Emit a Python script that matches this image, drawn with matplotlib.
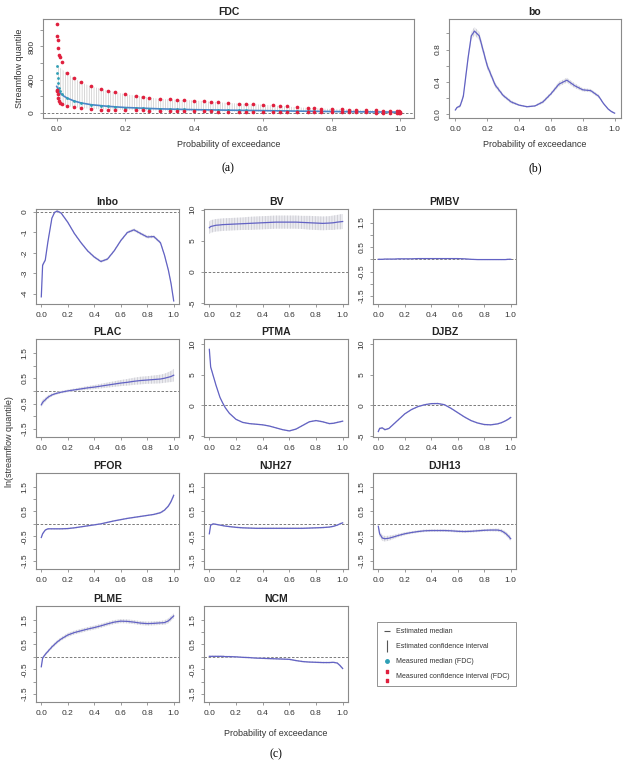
import numpy as np
import matplotlib
matplotlib.use("Agg")
import matplotlib.pyplot as plt
from matplotlib.lines import Line2D

plt.rcParams['font.family'] = ['Liberation Sans', 'DejaVu Sans']
plt.rcParams['hatch.linewidth'] = 0.5

# ---------------- data ----------------
# (a) flow duration curve
fdc_p_meas = [0.001, 0.002, 0.003, 0.005, 0.007, 0.01, 0.015, 0.03, 0.05, 0.07,
              0.10, 0.13, 0.15, 0.17, 0.20, 0.23, 0.25, 0.27, 0.30, 0.33, 0.35,
              0.37, 0.40, 0.43, 0.45, 0.47, 0.50, 0.53, 0.55, 0.57, 0.60, 0.63,
              0.65, 0.67, 0.70, 0.73, 0.75, 0.77, 0.80, 0.83, 0.85, 0.87, 0.90,
              0.93, 0.95, 0.97, 0.99, 0.995, 0.999]
fdc_meas_upper = [1070, 920, 880, 780, 700, 670, 610, 480, 420, 370, 320, 290, 270,
                  250, 225, 200, 190, 185, 170, 165, 160, 155, 150, 140, 135, 130,
                  120, 110, 108, 105, 100, 92, 88, 80, 68, 60, 56, 52, 48, 44, 40,
                  40, 36, 32, 30, 28, 22, 20, 18]
fdc_meas_lower = [280, 265, 225, 185, 150, 125, 110, 88, 70, 60, 50, 42, 40, 38, 36,
                  33, 31, 30, 28, 26, 25, 24, 22, 20, 19, 18, 17, 16, 15, 15, 14, 13,
                  12, 12, 11, 10, 10, 9, 9, 8, 8, 7, 7, 6, 6, 5, 4, 4, 3]
fdc_meas_median = [560, 480, 420, 360, 300, 260, 230, 180, 145, 122, 100, 88, 80, 74,
                   66, 60, 56, 53, 50, 47, 45, 43, 40, 38, 37, 36, 34, 32, 31, 30, 29,
                   27, 26, 25, 23, 21, 20, 19, 18, 17, 16, 15, 14, 13, 12, 11, 10, 10, 9]

fdc_p_est = [0.0, 0.01, 0.02, 0.03, 0.05, 0.07, 0.10, 0.15, 0.20, 0.30, 0.40, 0.50,
             0.60, 0.70, 0.80, 0.90, 1.0]
fdc_est_median = [320, 240, 205, 180, 145, 122, 100, 80, 66, 50, 40, 34, 29, 23, 18, 14, 10]
fdc_est_upper = [600, 540, 510, 480, 420, 370, 320, 270, 225, 170, 150, 120, 100, 68, 48, 36, 22]
fdc_est_lower = [150, 110, 95, 85, 70, 60, 50, 40, 36, 28, 22, 17, 14, 11, 9, 7, 4]

# (b) and (c) parameter curves
prob = [0.0, 0.01, 0.03, 0.05, 0.08, 0.10, 0.12, 0.15, 0.20, 0.25, 0.30, 0.35, 0.40,
        0.45, 0.50, 0.55, 0.60, 0.65, 0.70, 0.75, 0.80, 0.85, 0.90, 0.93, 0.96, 0.98, 1.0]

bo_med = [0.05, 0.08, 0.10, 0.22, 0.70, 0.97, 1.03, 0.97, 0.60, 0.36, 0.23, 0.15, 0.11,
          0.09, 0.10, 0.15, 0.25, 0.37, 0.42, 0.35, 0.30, 0.29, 0.22, 0.13, 0.06, 0.03, 0.01]
bo_ci = [0.01, 0.01, 0.02, 0.03, 0.04, 0.05, 0.05, 0.05, 0.04, 0.03, 0.02, 0.02, 0.01,
         0.01, 0.01, 0.02, 0.02, 0.03, 0.03, 0.03, 0.02, 0.02, 0.02, 0.01, 0.01, 0.01, 0.01]

lnbo_med = [-4.15, -2.6, -2.35, -1.45, -0.3, -0.02, 0.05, -0.05, -0.5, -1.05, -1.5, -1.9,
            -2.2, -2.42, -2.3, -1.9, -1.4, -1.0, -0.87, -1.05, -1.22, -1.2, -1.5, -2.1,
            -2.85, -3.5, -4.35]
lnbo_ci = [0.08, 0.08, 0.07, 0.06, 0.05, 0.05, 0.05, 0.05, 0.05, 0.05, 0.05, 0.05, 0.06,
           0.06, 0.06, 0.06, 0.06, 0.06, 0.07, 0.07, 0.07, 0.07, 0.07, 0.07, 0.08, 0.08, 0.08]

bv_med = [7.1, 7.3, 7.4, 7.5, 7.55, 7.6, 7.62, 7.65, 7.7, 7.75, 7.8, 7.85, 7.9, 7.95,
          8.0, 8.0, 8.0, 8.0, 7.95, 7.9, 7.85, 7.8, 7.85, 7.9, 8.0, 8.05, 8.1]
bv_ci = [1.0, 1.0, 1.0, 1.0, 1.0, 1.0, 1.0, 1.0, 1.0, 1.0, 1.05, 1.05, 1.05, 1.05, 1.05,
         1.05, 1.05, 1.05, 1.05, 1.1, 1.1, 1.1, 1.1, 1.15, 1.15, 1.2, 1.2]

pmbv_med = [0.0, 0.0, 0.0, 0.01, 0.01, 0.01, 0.01, 0.02, 0.02, 0.02, 0.03, 0.03, 0.03,
            0.03, 0.03, 0.03, 0.03, 0.02, 0.0, -0.01, -0.01, -0.01, -0.01, -0.01, -0.01,
            0.0, 0.0]
pmbv_ci = [0.03, 0.03, 0.02, 0.02, 0.02, 0.02, 0.02, 0.02, 0.02, 0.02, 0.02, 0.02, 0.02,
           0.02, 0.02, 0.02, 0.02, 0.02, 0.02, 0.02, 0.02, 0.02, 0.02, 0.02, 0.02, 0.03, 0.03]

plac_med = [-0.55, -0.45, -0.35, -0.25, -0.16, -0.12, -0.09, -0.05, 0.0, 0.04, 0.08,
            0.12, 0.15, 0.19, 0.23, 0.27, 0.31, 0.34, 0.38, 0.41, 0.43, 0.45, 0.47,
            0.5, 0.54, 0.57, 0.62]
plac_ci = [0.12, 0.1, 0.08, 0.07, 0.06, 0.05, 0.05, 0.05, 0.05, 0.05, 0.06, 0.07, 0.08,
           0.09, 0.1, 0.11, 0.12, 0.13, 0.14, 0.15, 0.15, 0.16, 0.17, 0.18, 0.2, 0.22, 0.25]

ptma_med = [9.2, 6.3, 4.8, 3.3, 1.3, 0.4, -0.4, -1.3, -2.3, -2.8, -3.0, -3.1, -3.2,
            -3.4, -3.7, -4.0, -4.2, -3.9, -3.3, -2.7, -2.5, -2.7, -3.0, -2.95, -2.8,
            -2.7, -2.6]
ptma_ci = [0.3, 0.25, 0.2, 0.15, 0.12, 0.1, 0.1, 0.1, 0.1, 0.1, 0.1, 0.1, 0.1, 0.1, 0.1,
           0.1, 0.12, 0.12, 0.12, 0.12, 0.12, 0.12, 0.12, 0.12, 0.12, 0.12, 0.12]

djbz_med = [-4.3, -3.8, -3.7, -4.0, -3.8, -3.4, -3.0, -2.4, -1.4, -0.7, -0.2, 0.1, 0.28,
            0.3, 0.1, -0.5, -1.2, -1.9, -2.5, -2.9, -3.15, -3.2, -3.05, -2.85, -2.55,
            -2.3, -2.0]
djbz_ci = [0.2, 0.2, 0.15, 0.15, 0.12, 0.12, 0.12, 0.12, 0.12, 0.12, 0.12, 0.12, 0.12,
           0.12, 0.12, 0.12, 0.12, 0.12, 0.12, 0.12, 0.12, 0.12, 0.12, 0.12, 0.12, 0.15, 0.15]

pfor_med = [-0.55, -0.4, -0.25, -0.2, -0.2, -0.2, -0.2, -0.2, -0.19, -0.16, -0.12,
            -0.08, -0.04, 0.0, 0.06, 0.12, 0.17, 0.22, 0.26, 0.3, 0.34, 0.38, 0.45,
            0.55, 0.72, 0.9, 1.15]
pfor_ci = [0.05, 0.04, 0.03, 0.03, 0.03, 0.03, 0.03, 0.03, 0.03, 0.03, 0.03, 0.03, 0.03,
           0.03, 0.03, 0.03, 0.03, 0.03, 0.03, 0.03, 0.03, 0.03, 0.04, 0.04, 0.05, 0.06, 0.07]

njh27_med = [-0.4, -0.05, 0.0, -0.02, -0.05, -0.07, -0.09, -0.11, -0.14, -0.16, -0.17,
             -0.18, -0.18, -0.18, -0.18, -0.18, -0.18, -0.18, -0.18, -0.17, -0.16,
             -0.15, -0.13, -0.1, -0.05, 0.0, 0.04]
njh27_ci = [0.05, 0.04, 0.03, 0.03, 0.03, 0.03, 0.03, 0.03, 0.03, 0.03, 0.03, 0.03, 0.03,
            0.03, 0.03, 0.03, 0.03, 0.03, 0.03, 0.03, 0.03, 0.03, 0.03, 0.03, 0.03, 0.04, 0.04]

djh13_med = [-0.1, -0.4, -0.57, -0.6, -0.58, -0.55, -0.52, -0.47, -0.4, -0.35, -0.31,
             -0.28, -0.27, -0.27, -0.27, -0.28, -0.3, -0.31, -0.3, -0.28, -0.26, -0.25,
             -0.25, -0.28, -0.38, -0.48, -0.6]
djh13_ci = [0.1, 0.12, 0.12, 0.11, 0.1, 0.09, 0.08, 0.07, 0.06, 0.05, 0.05, 0.05, 0.05,
            0.05, 0.05, 0.05, 0.05, 0.05, 0.05, 0.05, 0.05, 0.05, 0.06, 0.07, 0.08, 0.09, 0.1]

plme_med = [-0.4, -0.05, 0.1, 0.22, 0.4, 0.5, 0.6, 0.72, 0.88, 0.98, 1.05, 1.12, 1.18,
            1.25, 1.33, 1.4, 1.44, 1.43, 1.4, 1.36, 1.34, 1.35, 1.37, 1.38, 1.45, 1.55, 1.65]
plme_ci = [0.06, 0.06, 0.06, 0.06, 0.07, 0.07, 0.07, 0.07, 0.08, 0.08, 0.08, 0.08, 0.08,
           0.08, 0.08, 0.08, 0.08, 0.08, 0.08, 0.08, 0.08, 0.08, 0.08, 0.09, 0.1, 0.1, 0.1]

ncm_med = [0.02, 0.02, 0.02, 0.02, 0.02, 0.02, 0.01, 0.01, 0.0, -0.02, -0.03, -0.05,
           -0.06, -0.07, -0.08, -0.09, -0.1, -0.15, -0.19, -0.21, -0.22, -0.23, -0.23,
           -0.22, -0.25, -0.35, -0.47]
ncm_ci = [0.03, 0.03, 0.03, 0.03, 0.03, 0.03, 0.03, 0.03, 0.03, 0.03, 0.03, 0.03, 0.03,
          0.03, 0.03, 0.03, 0.03, 0.03, 0.03, 0.03, 0.03, 0.03, 0.03, 0.03, 0.03, 0.04, 0.04]

xtick_vals = [0.0, 0.2, 0.4, 0.6, 0.8, 1.0]
xtick_labels = ['0.0', '0.2', '0.4', '0.6', '0.8', '1.0']

# ---------------- style ----------------
MED_COL = '#6262c4'
FDC_LINE = '#4a86c8'
TEAL = '#2e9fb5'
RED = '#e0203e'
FRAME = '#8a8a8a'
TXT = '#333333'
BAND_FACE = '#ebebf0'
BAND_HATCH = '#c6c6cc'

W, H = 630, 766
fig = plt.figure(figsize=(W / 100, H / 100), dpi=100)


def box(x0, y0, x1, y1):
    return fig.add_axes([x0 / W, 1 - y1 / H, (x1 - x0) / W, (y1 - y0) / H])


def style(ax, title, yticks, ylabels, ylim, zero=True):
    ax.set_xlim(-0.04, 1.04)
    ax.set_ylim(*ylim)
    ax.set_xticks(xtick_vals)
    ax.set_xticklabels(xtick_labels)
    ax.set_yticks(yticks)
    ax.set_yticklabels(ylabels, rotation=90, va='center')
    for s in ax.spines.values():
        s.set_color(FRAME)
        s.set_linewidth(0.8)
    ax.tick_params(direction='out', length=2.5, width=0.6, color=FRAME,
                   labelsize=6, labelcolor=TXT, pad=3)
    ax.set_title(title, fontsize=7.5, fontweight='bold', color='#222222', pad=3)
    if zero:
        ax.axhline(0, color='#666666', lw=0.6, dashes=(3, 2), zorder=1)


def band(ax, x, med, ci, col=MED_COL):
    med = np.array(med)
    ci = np.array(ci)
    ax.fill_between(x, med - ci, med + ci, facecolor=BAND_FACE, edgecolor=BAND_HATCH,
                    hatch='||||||', linewidth=0, zorder=2)
    ax.plot(x, med, color=col, lw=0.9, zorder=3)


# (a) FDC
ax = box(43, 19, 414, 118)
ax.fill_between(fdc_p_est, fdc_est_lower, fdc_est_upper, facecolor='none',
                edgecolor='#c8c8c8', hatch='|||||||', linewidth=0, zorder=1)
ax.plot(fdc_p_est, fdc_est_median, color=FDC_LINE, lw=1.2, zorder=3)
ax.scatter(fdc_p_meas, fdc_meas_median, s=4, color=TEAL, zorder=4, linewidths=0)
ax.scatter(fdc_p_meas, fdc_meas_upper, s=7, color=RED, zorder=5, linewidths=0)
ax.scatter(fdc_p_meas, fdc_meas_lower, s=7, color=RED, zorder=5, linewidths=0)
style(ax, 'FDC', [0, 200, 400, 600, 800, 1000], ['0', '', '400', '', '800', ''],
      (-60, 1130))
ax.set_ylabel('Streamflow quantile', fontsize=6.5, color=TXT, labelpad=3)
ax.set_xlabel('Probability of exceedance', fontsize=6.5, color=TXT, labelpad=5)
fig.text(228 / W, 1 - 168 / H, '(a)', family='Liberation Serif', fontsize=8.5,
         ha='center', va='center')

# (b) bo
ax = box(449, 19, 621, 118)
band(ax, prob, bo_med, bo_ci)
style(ax, 'bo', [0.0, 0.2, 0.4, 0.6, 0.8, 1.0], ['0.0', '', '0.4', '', '0.8', ''],
      (-0.05, 1.18), zero=False)
ax.set_xlabel('Probability of exceedance', fontsize=6.5, color=TXT, labelpad=5)
fig.text(535 / W, 1 - 168 / H, '(b)', family='Liberation Serif', fontsize=8.5,
         ha='center', va='center')

# (c) grid
cols = [(36, 179), (204, 348), (373, 516)]
rows = [(209, 304), (339, 437), (473, 569), (606, 702)]

small_ticks = [-1.5, -1.0, -0.5, 0.0, 0.5, 1.0, 1.5]
small_labels = ['-1.5', '', '-0.5', '', '0.5', '', '1.5']
big_ticks = [-5, 0, 5, 10]
big_labels = ['-5', '0', '5', '10']
small_lim = (-1.82, 2.05)

panels = [
    ('lnbo', lnbo_med, lnbo_ci, [-4, -3, -2, -1, 0], ['-4', '-3', '-2', '-1', '0'], (-4.5, 0.15)),
    ('BV', bv_med, bv_ci, big_ticks, big_labels, (-5.1, 10.1)),
    ('PMBV', pmbv_med, pmbv_ci, small_ticks, small_labels, small_lim),
    ('PLAC', plac_med, plac_ci, small_ticks, small_labels, small_lim),
    ('PTMA', ptma_med, ptma_ci, big_ticks, big_labels, (-5.2, 10.9)),
    ('DJBZ', djbz_med, djbz_ci, big_ticks, big_labels, (-5.2, 10.9)),
    ('PFOR', pfor_med, pfor_ci, small_ticks, small_labels, small_lim),
    ('NJH27', njh27_med, njh27_ci, small_ticks, small_labels, small_lim),
    ('DJH13', djh13_med, djh13_ci, small_ticks, small_labels, small_lim),
    ('PLME', plme_med, plme_ci, small_ticks, small_labels, small_lim),
    ('NCM', ncm_med, ncm_ci, small_ticks, small_labels, small_lim),
]

for i, (name, med, ci, yt, yl, lim) in enumerate(panels):
    r, c = divmod(i, 3)
    ax = box(cols[c][0], rows[r][0], cols[c][1], rows[r][1])
    band(ax, prob, med, ci)
    style(ax, name, yt, yl, lim)

fig.text(276 / W, 1 - 734 / H, 'Probability of exceedance', fontsize=6.5, color=TXT,
         ha='center', va='center')
fig.text(276 / W, 1 - 754 / H, '(c)', family='Liberation Serif', fontsize=8.5,
         ha='center', va='center')
fig.text(10 / W, 1 - 442 / H, 'ln(streamflow quantile)', fontsize=6.5, color=TXT,
         rotation=90, ha='center', va='center')

# legend
handles = [
    Line2D([], [], color='#555555', marker='_', ls='None', markersize=5, markeredgewidth=0.8),
    Line2D([], [], color='#555555', marker='|', ls='None', markersize=8, markeredgewidth=0.8),
    Line2D([], [], color=TEAL, marker='o', ls='None', markersize=2.5),
    Line2D([], [], color=RED, marker='$:$', ls='None', markersize=8),
]
labels = ['Estimated median', 'Estimated confidence interval',
          'Measured median (FDC)', 'Measured confidence interval (FDC)']
leg = fig.legend(handles, labels, loc='upper left',
                 bbox_to_anchor=(377 / W, 1 - 622 / H), fontsize=5.0,
                 frameon=True, fancybox=False, handlelength=1.0, handletextpad=0.8,
                 borderpad=0.9, labelspacing=1.15, borderaxespad=0)
leg.get_frame().set_edgecolor('#777777')
leg.get_frame().set_linewidth(0.7)
for t in leg.get_texts():
    t.set_color(TXT)

fig.savefig('out.png', dpi=100)
